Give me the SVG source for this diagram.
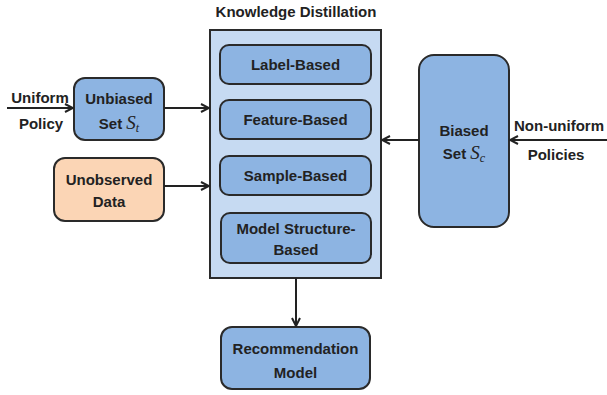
<svg xmlns="http://www.w3.org/2000/svg" width="607" height="395" viewBox="0 0 607 395">
<style>
text{font-family:"Liberation Sans",Arial,sans-serif;font-weight:bold;font-size:15px;fill:#222;text-anchor:middle}
.node{fill:#8db4e2;stroke:#2a2a2a;stroke-width:2}
.peach{fill:#fbd5b5;stroke:#2a2a2a;stroke-width:2}
.cont{fill:#c6daf2;stroke:#2a2a2a;stroke-width:2}
.m{font-family:"Liberation Serif",serif;font-style:italic;font-weight:normal;font-size:19px}
.sub{font-family:"Liberation Serif",serif;font-style:italic;font-weight:normal;font-size:12px}
.edge{stroke:#222;stroke-width:2;fill:none;marker-end:url(#ah)}
</style>
<defs>
<marker id="ah" viewBox="0 0 10 10" refX="9" refY="5" markerWidth="5" markerHeight="5" orient="auto" markerUnits="strokeWidth">
<path d="M1,1 L9,5 L1,9" fill="none" stroke="#222" stroke-width="2"/>
</marker>
</defs>
<g id="kd">
<text x="296" y="17">Knowledge Distillation</text>
<rect class="cont" x="210" y="30" width="171" height="248"/>
</g>
<g id="label-based"><rect class="node" x="220" y="45" width="151" height="39" rx="9"/><text x="295.5" y="70">Label-Based</text></g>
<g id="feature-based"><rect class="node" x="220" y="100" width="151" height="39" rx="9"/><text x="295.5" y="125">Feature-Based</text></g>
<g id="sample-based"><rect class="node" x="220" y="156" width="151" height="39" rx="9"/><text x="295.5" y="181">Sample-Based</text></g>
<g id="model-structure"><rect class="node" x="221" y="213" width="150" height="50" rx="9"/><text x="296" y="234">Model Structure-</text><text x="296" y="255">Based</text></g>
<g id="unbiased"><rect class="node" x="74" y="78" width="90" height="62" rx="11"/><text x="119" y="104">Unbiased</text><text x="119" y="129">Set <tspan class="m">S</tspan><tspan class="sub" dy="3">t</tspan></text></g>
<g id="unobserved"><rect class="peach" x="54" y="158" width="110" height="63" rx="11"/><text x="109" y="185">Unobserved</text><text x="109" y="207">Data</text></g>
<g id="biased"><rect class="node" x="419" y="55" width="90" height="172" rx="15"/><text x="464" y="136">Biased</text><text x="464" y="159">Set <tspan class="m">S</tspan><tspan class="sub" dy="3">c</tspan></text></g>
<g id="recommendation"><rect class="node" x="221" y="327" width="149" height="62" rx="11"/><text x="295.5" y="354">Recommendation</text><text x="295.5" y="378">Model</text></g>
<g id="uniform-label"><text x="40" y="103">Uniform</text><text x="41" y="129">Policy</text></g>
<g id="nonuniform-label"><text x="559" y="131">Non-uniform</text><text x="556" y="160">Policies</text></g>
<g id="connectors">
<path class="edge" d="M7,108 H73"/>
<path class="edge" d="M164,108 H209"/>
<path class="edge" d="M164,186 H209"/>
<path class="edge" d="M419,140 H382"/>
<path class="edge" d="M607,140 H510"/>
<path class="edge" d="M296,278 V326"/>
</g>
</svg>
